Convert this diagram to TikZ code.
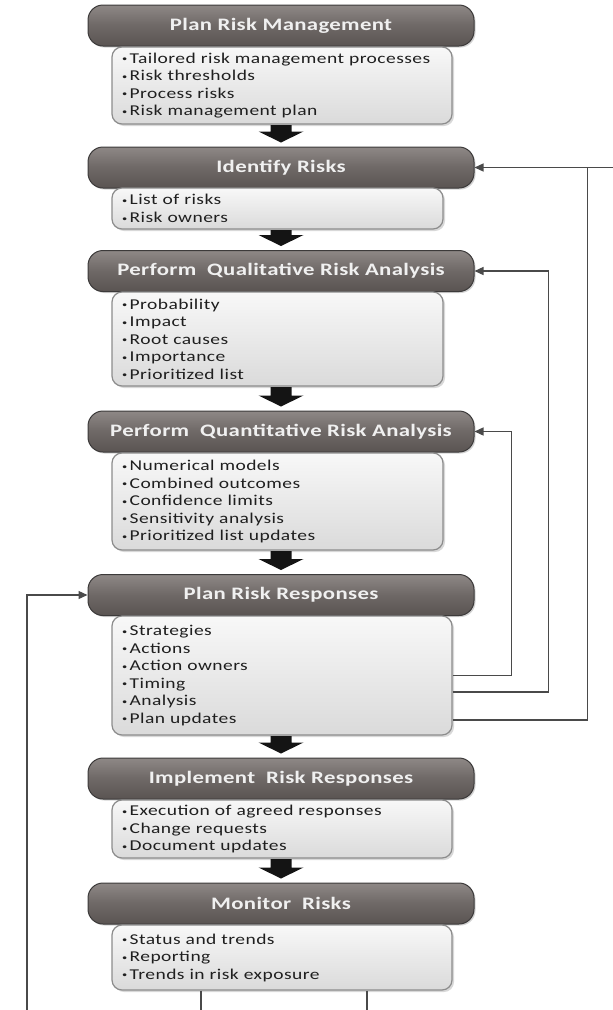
\documentclass[tikz,border=0pt]{standalone}
\usepackage{fontspec}
\setmainfont{Carlito}[FakeStretch=1.3]
\newfontfamily\cfont{Carlito}[FakeStretch=1.3, LetterSpace=3]
\newfontfamily\hfont{Carlito}[FakeStretch=1.3, LetterSpace=2]
\usetikzlibrary{calc,arrows.meta,shadows}
\definecolor{hdrtop}{HTML}{8E8886}
\definecolor{hdrmid}{HTML}{6E6866}
\definecolor{hdrbot}{HTML}{5A5452}
\definecolor{hdrline}{HTML}{3C3A3A}
\definecolor{boxtop}{HTML}{F8F8F8}
\definecolor{boxbot}{HTML}{DADADA}
\definecolor{boxline}{HTML}{8C8C8C}
\definecolor{fbcol}{HTML}{4A4A4A}
\newcommand\itm{{\fontsize{8}{8}\selectfont\raisebox{0.35ex}{•}}\hspace{2.5pt}}
\newcommand\blockarr[2]{%
  \fill[black!92] let \p1=(#1.south), \p2=(#2.north) in
    (\x2-10.5pt,\y1-0.5pt) -- (\x2+10.5pt,\y1-0.5pt) -- (\x2+10.5pt,\y2+15pt)
    -- (\x2+22.5pt,\y2+15pt) -- (\x2,\y2+4pt) -- (\x2-22.5pt,\y2+15pt)
    -- (\x2-10.5pt,\y2+15pt) -- cycle;}
\tikzset{
  hdr/.style={draw=hdrline, line width=1pt, rounded corners=15pt,
    top color=hdrtop, bottom color=hdrbot, middle color=hdrmid,
    minimum width=386pt, minimum height=41pt, inner sep=0pt,
    text=white!94!black, font=\hfont\fontsize{17.5}{20}\selectfont\bfseries,
    drop shadow={shadow xshift=1.5pt, shadow yshift=-1.5pt, opacity=0.35}},
  cbox/.style={draw=boxline, line width=1.2pt, rounded corners=10pt,
    top color=boxtop, bottom color=boxbot, minimum width=340pt,
    inner sep=0pt, text width=320pt, align=left,
    font=\cfont\fontsize{15}{17.5}\selectfont, text=black!88,
    drop shadow={shadow xshift=2pt, shadow yshift=-2pt, opacity=0.3}},
  fb/.style={draw=fbcol, line width=1.3pt, -{Triangle[length=9pt,width=8pt]}},
  fbl/.style={draw=fbcol, line width=1.3pt},
}
\begin{document}
\begin{tikzpicture}[x=1pt,y=-1pt]
\useasboundingbox (0,0) rectangle (613,1010);
\fill[white] (0,0) rectangle (613,1010);

% headers
\node[hdr] (h1) at (281,25.5) {Plan Risk Management};
\node[hdr] (h2) at (281,167.5) {Identify Risks};
\node[hdr] (h3) at (281,271) {Perform\ \ Qualitative Risk Analysis};
\node[hdr] (h4) at (281,431.5) {Perform\ \ Quantitative Risk Analysis};
\node[hdr] (h5) at (281,595) {Plan Risk Responses};
\node[hdr] (h6) at (281,778.5) {Implement\ \ Risk Responses};
\node[hdr] (h7) at (281,903.5) {Monitor\ \ Risks};

% content boxes
\node[cbox, minimum height=77pt] (c1) at (282,85.5)
  {\itm Tailored risk management processes\\\itm Risk thresholds\\\itm Process risks\\\itm Risk management plan};
\node[cbox, minimum width=331pt, text width=311pt, minimum height=41pt] (c2) at (277.5,208.5)
  {\itm List of risks\\\itm Risk owners};
\node[cbox, minimum width=331pt, text width=311pt, minimum height=94pt] (c3) at (277.5,339)
  {\itm Probability\\\itm Impact\\\itm Root causes\\\itm Importance\\\itm Prioritized list};
\node[cbox, minimum width=331pt, text width=311pt, minimum height=97pt] (c4) at (277.5,501.5)
  {\itm Numerical models\\\itm Combined outcomes\\\itm Confidence limits\\\itm Sensitivity analysis\\\itm Prioritized list updates};
\node[cbox, minimum height=119pt] (c5) at (282,675.5)
  {\itm Strategies\\\itm Actions\\\itm Action owners\\\itm Timing\\\itm Analysis\\\itm Plan updates};
\node[cbox, minimum height=58pt] (c6) at (282,829)
  {\itm Execution of agreed responses\\\itm Change requests\\\itm Document updates};
\node[cbox, minimum height=65pt] (c7) at (282,957.5)
  {\itm Status and trends\\\itm Reporting\\\itm Trends in risk exposure};

% block arrows
\blockarr{c1}{h2}
\blockarr{c2}{h3}
\blockarr{c3}{h4}
\blockarr{c4}{h5}
\blockarr{c5}{h6}
\blockarr{c6}{h7}

% feedback connectors
\draw[fb] (c5.east) -- ++(59,0) |- (h4.east);
\draw[fb] ($(c5.east)+(0,16.5)$) -- ++(96,0) |- (h3.east);
\draw[fbl] ($(c5.east)+(0,44.5)$) -- ++(135,0) coordinate (q) -- (q |- h2.east);
\coordinate (redge) at (613,167.5);
\draw[fb] (redge) -- (h2.east);

\coordinate (lb) at (27,1010);
\draw[fb] (lb) |- (h5.west);

\coordinate (b1) at (201,1010);
\coordinate (b2) at (367,1010);
\draw[fbl] (c7.south -| b1) -- (b1);
\draw[fbl] (c7.south -| b2) -- (b2);
\end{tikzpicture}
\end{document}
